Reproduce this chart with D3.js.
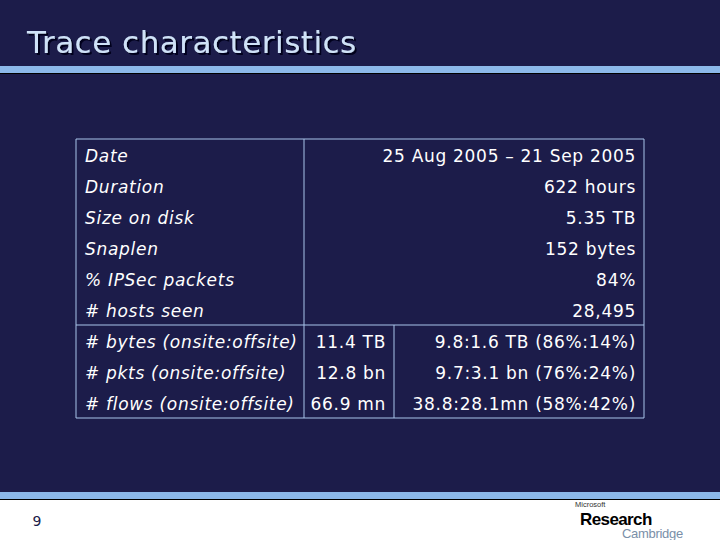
<!DOCTYPE html><html><head><meta charset="utf-8">
<script src="https://cdn.jsdelivr.net/npm/d3@7"></script>
<style>body{margin:0;background:#1c1c4a}</style></head><body>
<svg id="s" width="720" height="540"></svg>
<script>
const topLabels=["Date","Duration","Size on disk","Snaplen","% IPSec packets","# hosts seen"];
const topValues=["25 Aug 2005 – 21 Sep 2005","622 hours","5.35 TB","152 bytes","84%","28,495"];
const splitLabels=["# bytes (onsite:offsite)","# pkts (onsite:offsite)","# flows (onsite:offsite)"];
const splitTotals=["11.4 TB","12.8 bn","66.9 mn"];
const splitParts=["9.8:1.6 TB (86%:14%)","9.7:3.1 bn (76%:24%)","38.8:28.1mn (58%:42%)"];

const svg=d3.select("#s");
const f=svg.append("defs").append("filter").attr("id","sh").attr("x","-5%").attr("y","-20%").attr("width","110%").attr("height","140%");
f.append("feDropShadow").attr("dx",2).attr("dy",2).attr("stdDeviation",0.3).attr("flood-color","#05051a");
svg.append("rect").attr("width",720).attr("height",540).attr("fill","#1c1c4a");
svg.append("text").attr("x",27).attr("y",53).text("Trace characteristics").attr("font-family","DejaVu Sans").attr("font-size",31).attr("letter-spacing",0.5).attr("fill","#cfe2f8").attr("filter","url(#sh)");
svg.append("rect").attr("x",0).attr("y",66).attr("width",720).attr("height",7).attr("fill","#8cb8ea");
svg.append("rect").attr("x",0).attr("y",73).attr("width",720).attr("height",1).attr("fill","#000");
svg.append("rect").attr("x",0).attr("y",492).attr("width",720).attr("height",7).attr("fill","#8cb8ea");
svg.append("rect").attr("x",0).attr("y",499).attr("width",720).attr("height",41).attr("fill","#fff");
svg.append("rect").attr("x",0).attr("y",499).attr("width",720).attr("height",1).attr("fill","#000");
svg.append("text").attr("x",37).attr("y",526).attr("text-anchor","middle").text("9").attr("font-family","DejaVu Sans").attr("font-size",14).attr("fill","#1c1c4a");
svg.append("text").attr("x",575).attr("y",507).text("Microsoft").attr("font-family","Liberation Sans").attr("font-size",7.5).attr("fill","#333");
svg.append("text").attr("x",580).attr("y",525).attr("letter-spacing",-0.6).text("Research").attr("font-family","Liberation Sans").attr("font-weight","bold").attr("font-size",17).attr("fill","#000");
svg.append("text").attr("x",622).attr("y",538).attr("letter-spacing",-0.3).text("Cambridge").attr("font-family","Liberation Sans").attr("font-size",13).attr("fill","#7a8fa8");

const x0=76,x1=304,x2=394,x3=644,rowH=31,tTop=139;
const nRows=topLabels.length+splitLabels.length;
const y=d3.scaleLinear().domain([0,nRows]).range([tTop,tTop+nRows*rowH]);
const g=svg.append("g").attr("font-family","DejaVu Sans").attr("font-size",17).attr("letter-spacing",0.7).attr("fill","#fff");
const line=(a,b,c,d)=>svg.append("line").attr("x1",a).attr("y1",b).attr("x2",c).attr("y2",d).attr("stroke","#a8c4ea").attr("stroke-width",1);
line(x0,y(0),x3,y(0));line(x0,y(nRows),x3,y(nRows));line(x0,y(0),x0,y(nRows));line(x3,y(0),x3,y(nRows));
line(x1,y(0),x1,y(nRows));line(x0,y(6),x3,y(6));line(x2,y(6),x2,y(nRows));
topLabels.forEach((l,i)=>{
 g.append("text").attr("x",x0+9).attr("y",y(i)+23).attr("font-style","italic").text(l);
 g.append("text").attr("x",x3-8).attr("y",y(i)+23).attr("text-anchor","end").text(topValues[i]);
});
splitLabels.forEach((l,i)=>{
 const r=i+6;
 g.append("text").attr("x",x0+9).attr("y",y(r)+23).attr("font-style","italic").text(l);
 g.append("text").attr("x",x2-8).attr("y",y(r)+23).attr("text-anchor","end").text(splitTotals[i]);
 g.append("text").attr("x",x3-8).attr("y",y(r)+23).attr("text-anchor","end").text(splitParts[i]);
});
</script></body></html>
